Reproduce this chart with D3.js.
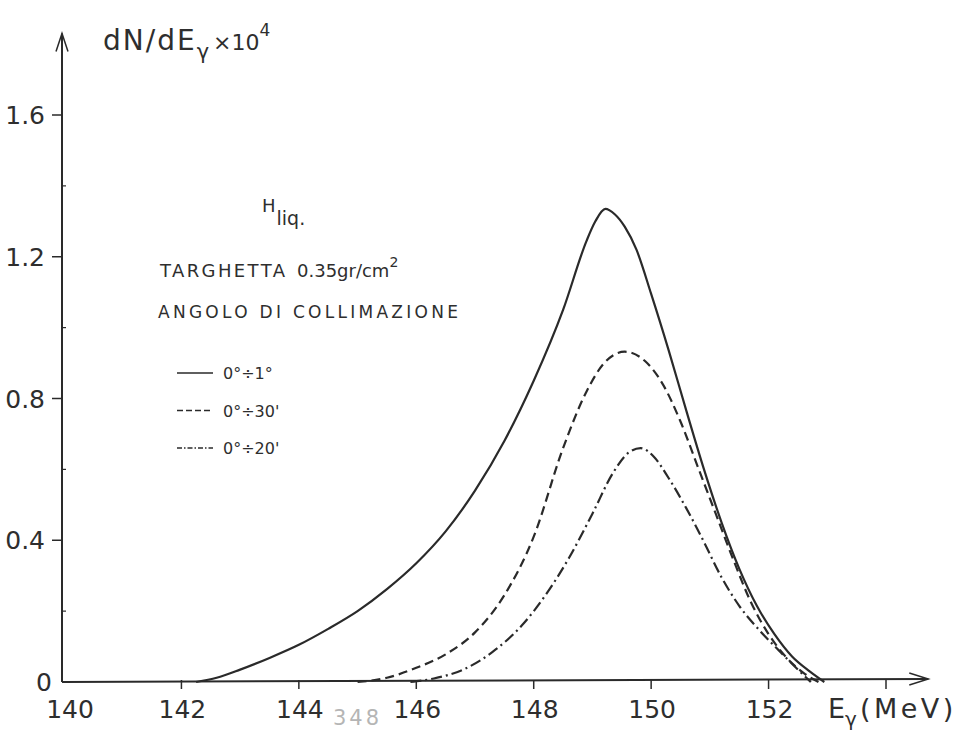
<!DOCTYPE html>
<html>
<head>
<meta charset="utf-8">
<script src="https://cdn.jsdelivr.net/npm/d3@7"></script>
<style>
    body { margin: 0; background: #ffffff; }
    svg { display: block; }
    text { font-family: "DejaVu Sans", sans-serif; fill: #2e2e2e; }
</style>
</head>
<body>
<svg id="chart"></svg>
<script>
// values (dN/dE x 10^4 against E gamma in MeV)
var xTickValues = [142, 144, 146, 148, 150, 152, 154]
var xTickLabels = ["140", "142", "144", "146", "148", "150", "152"]
var xLabelValues = [140, 142, 144, 146, 148, 150, 152]
var yTickValues = [0.4, 0.8, 1.2, 1.6]
var yTickLabels = ["0", "0.4", "0.8", "1.2", "1.6"]
var yLabelValues = [0, 0.4, 0.8, 1.2, 1.6]
var yMinorTicks = [0.2, 0.6, 1.0, 1.4]

// 0° ÷ 1°  (solid)
var solidE = [142.25, 142.6, 143.0, 143.5, 144.0, 144.5, 145.0, 145.5, 146.0, 146.5, 147.0, 147.5, 148.0, 148.5, 148.9, 149.05, 149.22, 149.38, 149.55, 149.75, 150.0, 150.3, 150.6, 150.9, 151.2, 151.5, 151.8, 152.1, 152.4, 152.7, 152.95]
var solidN = [0.000, 0.012, 0.035, 0.068, 0.105, 0.150, 0.200, 0.262, 0.335, 0.425, 0.540, 0.680, 0.850, 1.050, 1.245, 1.300, 1.335, 1.320, 1.285, 1.220, 1.095, 0.935, 0.765, 0.600, 0.450, 0.320, 0.215, 0.135, 0.072, 0.030, 0.000]

// 0° ÷ 30'  (dashed)
var dashE = [145.0, 145.5, 146.0, 146.5, 147.0, 147.5, 148.0, 148.5, 148.9, 149.2, 149.55, 149.9, 150.2, 150.5, 150.8, 151.1, 151.4, 151.7, 152.0, 152.3, 152.6, 152.85]
var dashN = [0.000, 0.012, 0.040, 0.078, 0.140, 0.245, 0.410, 0.660, 0.820, 0.900, 0.932, 0.905, 0.840, 0.735, 0.605, 0.475, 0.345, 0.225, 0.135, 0.070, 0.025, 0.000]

// 0° ÷ 20'  (dash-dot)
var dotE = [145.9, 146.3, 146.8, 147.3, 147.8, 148.2, 148.6, 149.0, 149.35, 149.6, 149.82, 150.05, 150.3, 150.6, 150.9, 151.2, 151.5, 151.85, 152.2, 152.5, 152.72]
var dotN = [0.000, 0.010, 0.035, 0.085, 0.160, 0.245, 0.350, 0.475, 0.590, 0.645, 0.660, 0.635, 0.575, 0.490, 0.395, 0.295, 0.215, 0.145, 0.085, 0.035, 0.000]

var seriesNames = ["0°÷1°", "0°÷30'", "0°÷20'"]
var seriesDash = [null, "9,5", "11,4,2,4"]
var legendDash = [null, "6,3", "5,2,1.5,2"]

var svg = d3.select("#chart")

var dimensions = {
    width: 963,
    height: 732,
    margin: {
        top: 115,
        bottom: 50,
        left: 64,
        right: 77
    }
}

svg.attr("width", dimensions.width)
   .attr("height", dimensions.height)

var xScale = d3.scaleLinear()
               .domain([140, 154])
               .range([dimensions.margin.left, dimensions.width - dimensions.margin.right])
var yScale = d3.scaleLinear()
               .domain([0, 1.6])
               .range([dimensions.height - dimensions.margin.bottom, dimensions.margin.top])

var ink = "#2a2a2a"

// axes, drawn as plain lines with open arrow heads like the hand drawing
var axes = svg.append("g")
    .attr("stroke", ink)
    .attr("fill", "none")
    .attr("stroke-width", 2)

var x0 = xScale(140) - 2
var y0 = yScale(0)
var xEnd = xScale(154.72)
var yEnd = yScale(1.83)

axes.append("line")
    .attr("x1", x0).attr("y1", y0)
    .attr("x2", xEnd).attr("y2", y0 - 3)
axes.append("polyline")
    .attr("stroke-width", 1.5)
    .attr("points", `${xEnd - 19},${y0 - 9} ${xEnd},${y0 - 3} ${xEnd - 19},${y0 + 3}`)

axes.append("line")
    .attr("x1", x0).attr("y1", y0)
    .attr("x2", x0).attr("y2", yEnd)
axes.append("polyline")
    .attr("stroke-width", 1.5)
    .attr("points", `${x0 - 6},${yEnd + 18} ${x0},${yEnd} ${x0 + 6},${yEnd + 18}`)

// tick marks
axes.selectAll(".x-tick")
    .data(xTickValues)
    .enter()
    .append("line")
    .attr("class", "x-tick")
    .attr("stroke-width", 1.5)
    .attr("x1", d => xScale(d)).attr("x2", d => xScale(d))
    .attr("y1", d => y0 - 2).attr("y2", d => y0 + 7)

axes.selectAll(".y-tick")
    .data(yTickValues)
    .enter()
    .append("line")
    .attr("class", "y-tick")
    .attr("stroke-width", 1.5)
    .attr("x1", x0 - 10).attr("x2", x0)
    .attr("y1", d => yScale(d)).attr("y2", d => yScale(d))

axes.selectAll(".y-minor")
    .data(yMinorTicks)
    .enter()
    .append("line")
    .attr("class", "y-minor")
    .attr("stroke-width", 1.2)
    .attr("x1", x0).attr("x2", x0 + 4)
    .attr("y1", d => yScale(d)).attr("y2", d => yScale(d))

// tick labels
svg.append("g")
    .selectAll("text")
    .data(xLabelValues)
    .enter()
    .append("text")
    .attr("x", (d, i) => xScale(d) + (i === 0 ? 6 : 1))
    .attr("y", 718)
    .attr("text-anchor", "middle")
    .attr("font-size", 25)
    .text((d, i) => xTickLabels[i])

svg.append("g")
    .selectAll("text")
    .data(yLabelValues)
    .enter()
    .append("text")
    .attr("x", (d, i) => i === 0 ? 52 : 45)
    .attr("y", d => yScale(d) + 9)
    .attr("text-anchor", "end")
    .attr("font-size", 25)
    .text((d, i) => yTickLabels[i])

// axis titles
var yTitle = svg.append("text")
    .attr("x", 103)
    .attr("y", 50)
    .attr("font-size", 28)
yTitle.append("tspan").attr("letter-spacing", 2).text("dN/dE")
yTitle.append("tspan").attr("font-size", 21).attr("dy", 9).text("γ")
yTitle.append("tspan").attr("font-size", 22).attr("dy", -9).attr("dx", 4).text("×10")
yTitle.append("tspan").attr("font-size", 17).attr("dy", -14).text("4")

var xTitle = svg.append("text")
    .attr("x", 828)
    .attr("y", 718)
    .attr("font-size", 27)
xTitle.append("tspan").text("E")
xTitle.append("tspan").attr("font-size", 20).attr("dy", 8).text("γ")
xTitle.append("tspan").attr("dy", -8).attr("dx", 3).attr("letter-spacing", 3.5).text("(MeV)")

// curves
var lineGen = d3.line()
    .x(d => xScale(d[0]))
    .y(d => yScale(d[1]))
    .curve(d3.curveMonotoneX)

var curves = [
    d3.zip(solidE, solidN),
    d3.zip(dashE, dashN),
    d3.zip(dotE, dotN)
]

svg.append("g")
    .selectAll("path")
    .data(curves)
    .enter()
    .append("path")
    .attr("d", lineGen)
    .attr("fill", "none")
    .attr("stroke", ink)
    .attr("stroke-width", 2.2)
    .attr("stroke-dasharray", (d, i) => seriesDash[i])

// annotation block
var hLabel = svg.append("text")
    .attr("x", 262)
    .attr("y", 212)
    .attr("font-size", 18)
hLabel.append("tspan").text("H")
hLabel.append("tspan").attr("dy", 13).attr("dx", 1).attr("font-size", 19).text("liq.")

svg.append("text")
    .attr("x", 160)
    .attr("y", 277)
    .attr("font-size", 18)
    .attr("textLength", 125)
    .attr("lengthAdjust", "spacing")
    .text("TARGHETTA")

var target = svg.append("text")
    .attr("x", 297)
    .attr("y", 277)
    .attr("font-size", 18)
target.append("tspan").text("0.35gr/cm")
target.append("tspan").attr("font-size", 14).attr("dy", -10).text("2")

svg.append("text")
    .attr("x", 158)
    .attr("y", 318)
    .attr("font-size", 17)
    .attr("textLength", 300)
    .attr("lengthAdjust", "spacing")
    .text("ANGOLO DI COLLIMAZIONE")

var legend = svg.append("g")
    .selectAll("g")
    .data(seriesNames)
    .enter()
    .append("g")
    .attr("transform", (d, i) => `translate(177, ${373 + i * 37.5})`)

legend.append("line")
    .attr("x1", 0).attr("x2", 36)
    .attr("y1", 0).attr("y2", 0)
    .attr("stroke", ink)
    .attr("stroke-width", 1.5)
    .attr("stroke-dasharray", (d, i) => legendDash[i])

legend.append("text")
    .attr("x", 46)
    .attr("y", 6)
    .attr("font-size", 16)
    .text(d => d)

// faint page number stamped under the axis
svg.append("text")
    .attr("x", 333)
    .attr("y", 725)
    .attr("font-size", 21)
    .attr("letter-spacing", 3)
    .style("fill", "#b5b5b5")
    .text("348")
</script>
</body>
</html>
